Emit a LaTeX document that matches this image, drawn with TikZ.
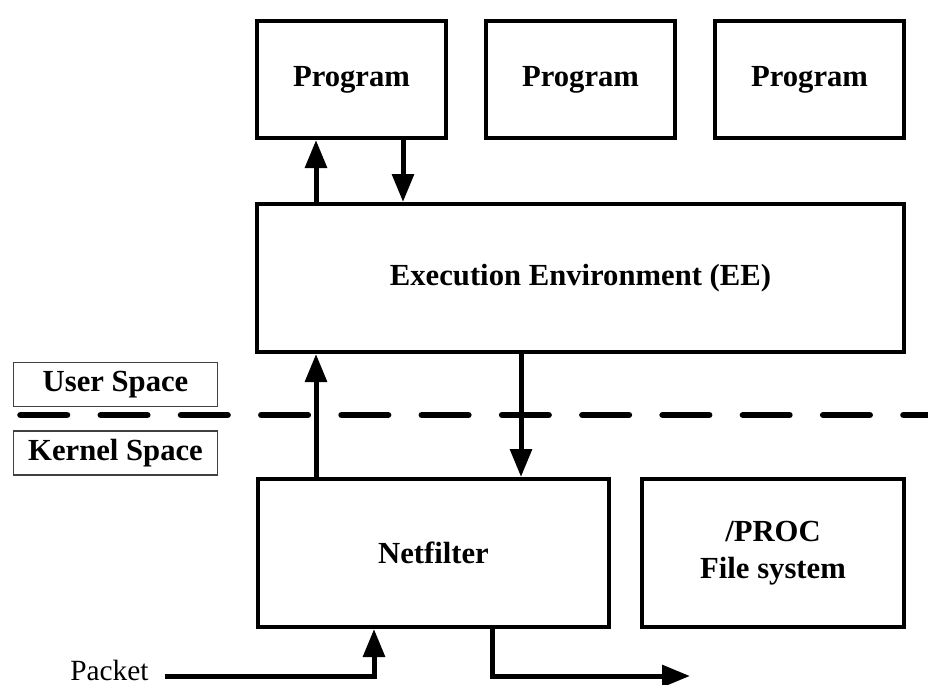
\documentclass[tikz,border=0pt]{standalone}
\usepackage{fontspec}
\setmainfont{Liberation Serif}
\usetikzlibrary{arrows.meta,calc}

\begin{document}
\begin{tikzpicture}[
  x=0.75pt, y=-0.75pt,
  font=\fontsize{22}{26.4}\selectfont,
  box/.style={draw, line width=3pt, align=center, inner sep=0pt, font=\fontsize{23}{27.6}\selectfont\bfseries},
  prog/.style={box, minimum width=141.75pt, minimum height=87.75pt},
  kbox/.style={box, minimum width=#1, minimum height=111pt},
  space/.style={draw=black!75, line width=1pt, minimum width=153pt, minimum height=33pt, inner sep=0pt, font=\fontsize{23}{27.6}\selectfont\bfseries},
  flow/.style={line width=3.75pt, -{Triangle[length=21pt, width=16pt]}},
  divider/.style={line width=4.9pt, line cap=round, dash pattern=on 34.9pt off 25.3pt}
]
\useasboundingbox (0,0) rectangle (928,685);

% user space
\node[prog] (prog1) at (351.5,79.5) {Program};
\node[prog] (prog2) at (580.5,79.5) {Program};
\node[prog] (prog3) at (809.5,79.5) {Program};
\node[kbox=485.25pt] (ee) at (580.5,278) {Execution Environment (EE)};

% kernel space
\node[kbox=263.25pt] (net) at (433.5,553) {Netfilter};
\node[kbox=196.5pt] (proc) at (773,553) {/PROC\\File system};

\node[space] (user) at (115.5,384.5) {User Space};
\node[space] (kernel) at (115.5,453) {Kernel Space};
\draw[divider] (20.5,415) -- (928,415);

% vertical links
\coordinate (xa) at (316,0);
\coordinate (xb) at (403,0);
\coordinate (xc) at (521,0);
\draw[flow] (ee.north -| xa) -- (prog1.south -| xa);
\draw[flow] (prog1.south -| xb) -- (ee.north -| xb);
\draw[flow] (net.north -| xa) -- (ee.south -| xa);
\draw[flow] (ee.south -| xc) -- (net.north -| xc);

% packet in and out
\node[anchor=base west, inner xsep=12pt, inner ysep=0pt] (packet) at (54,680) {Packet};
\coordinate (pin) at (374,676);
\coordinate (pout) at (492,676);
\coordinate (out) at (690,676);
\draw[flow] (packet.east |- pin) -- (pin) -- (pin |- net.south);
\draw[flow] (net.south -| pout) -- (pout) -- (out);

\end{tikzpicture}
\end{document}
